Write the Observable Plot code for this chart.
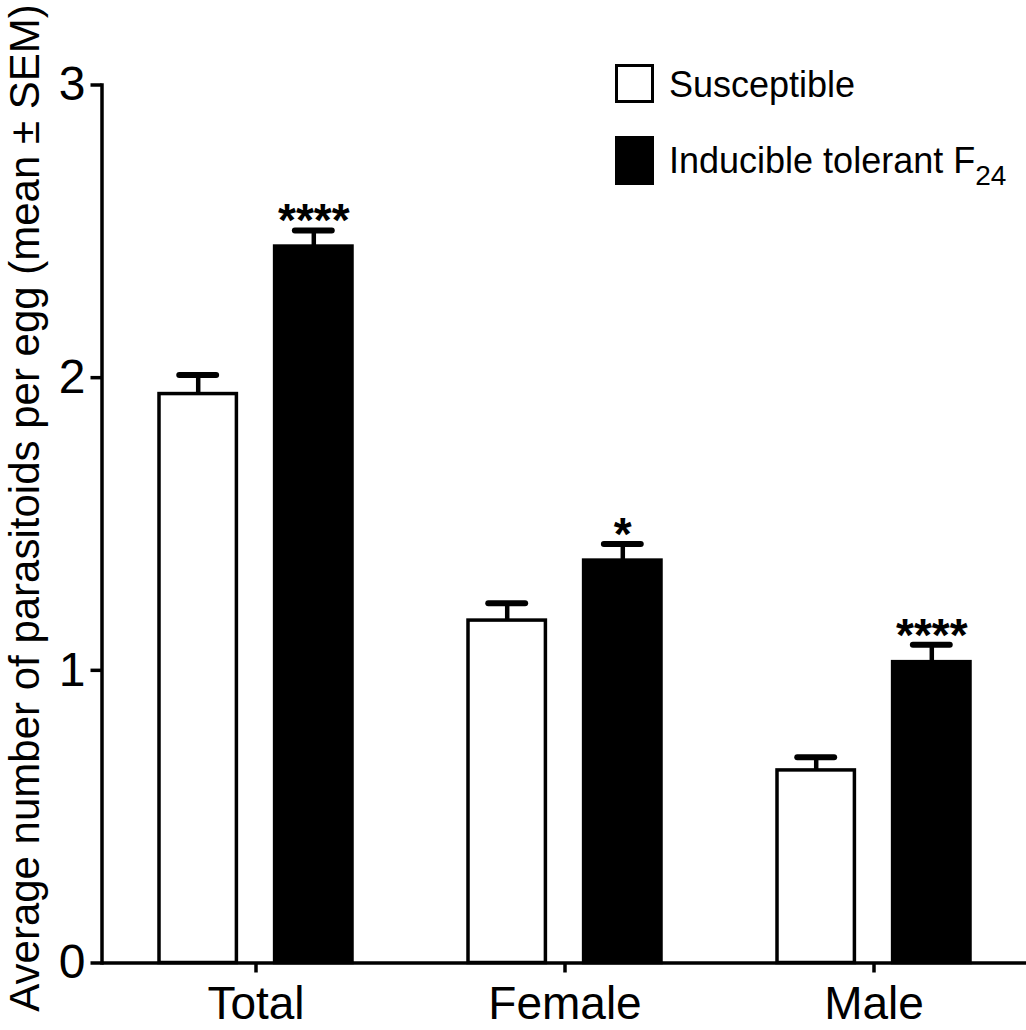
<!DOCTYPE html>
<html>
<head>
<meta charset="utf-8">
<script src="https://cdn.jsdelivr.net/npm/d3@7"></script>
<script src="https://cdn.jsdelivr.net/npm/@observablehq/plot@0.6"></script>
<style>
  html, body { margin: 0; padding: 0; background: #fff; }
  #wrap { position: relative; width: 1026px; height: 1030px; overflow: hidden; font-family: "Liberation Sans", Arial, Helvetica, sans-serif; color: #000; }
  .swatch { position: absolute; box-sizing: border-box; }
  .lab { position: absolute; font-size: 36px; line-height: 36px; white-space: nowrap; }
  .lab sub { font-size: 28px; vertical-align: -12px; line-height: 0; }
</style>
</head>
<body>
<div id="wrap"></div>
<script>
// ---- data ----
const categories = ["Total", "Female", "Male"];
const seriesNames = ["Susceptible", "Inducible tolerant F"];
const susceptibleMean = [1.944, 1.170, 0.658];
const susceptibleSEM  = [0.065, 0.059, 0.045];
const tolerantMean    = [2.448, 1.375, 1.028];
const tolerantSEM     = [0.055, 0.057, 0.059];
const significance    = ["****", "*", "****"];
const yTicks = [0, 1, 2, 3];
const yLabel = "Average number of parasitoids per egg (mean ± SEM)";

const rows = categories.map((c, i) => ({
  category: c,
  sMean: susceptibleMean[i], sSEM: susceptibleSEM[i],
  tMean: tolerantMean[i], tSEM: tolerantSEM[i],
  sig: significance[i]
}));

const barInset = 115.6, barOffset = 57.8;

const chart = Plot.plot({
  width: 1026,
  height: 1030,
  marginTop: 84.5,
  marginBottom: 67.5,
  marginLeft: 101.5,
  marginRight: 0,
  style: { fontFamily: "'Liberation Sans', Arial, Helvetica, sans-serif", background: "white", color: "black" },
  x: { type: "band", domain: categories, paddingInner: 0.3754, paddingOuter: 0.1829, align: 0.509 },
  y: { domain: [0, 3] },
  marks: [
    Plot.barY(rows, { x: "category", y: "sMean", fill: "white", stroke: "black", strokeWidth: 3.5, insetRight: barInset }),
    Plot.barY(rows, { x: "category", y: "tMean", fill: "black", stroke: "black", strokeWidth: 3.5, insetLeft: barInset }),
    Plot.ruleX(rows, { x: "category", y1: "sMean", y2: d => d.sMean + d.sSEM, dx: -barOffset, strokeWidth: 4.5 }),
    Plot.ruleX(rows, { x: "category", y1: "tMean", y2: d => d.tMean + d.tSEM, dx: barOffset, strokeWidth: 4.5 }),
    Plot.tickY(rows, { x: "category", y: d => d.sMean + d.sSEM, strokeWidth: 6, strokeLinecap: "round", insetLeft: 20.25, insetRight: 135.85 }),
    Plot.tickY(rows, { x: "category", y: d => d.tMean + d.tSEM, strokeWidth: 6, strokeLinecap: "round", insetLeft: 135.85, insetRight: 20.25 }),
    Plot.text(rows, { x: "category", y: d => d.tMean + d.tSEM, text: "sig", dx: barOffset, dy: 6, lineAnchor: "bottom", fontSize: 46, fontWeight: "bold", fill: "black" }),
    Plot.ruleY([0], { strokeWidth: 3.5 }),
    Plot.frame({ anchor: "left", strokeWidth: 3.5 }),
    Plot.axisY({ ticks: yTicks, tickFormat: d => String(d), tickSize: 11, tickPadding: 5.5, fontSize: 48, strokeWidth: 3.5, label: null }),
    Plot.axisX({ tickSize: 10, tickPadding: 13.5, fontSize: 46, strokeWidth: 3.5, label: null }),
    Plot.text([yLabel], { text: d => d, frameAnchor: "left", textAnchor: "middle", lineAnchor: "middle", rotate: -90, dx: -76, dy: -16, fontSize: 42, fill: "black" })
  ]
});

const wrap = document.getElementById("wrap");
wrap.appendChild(chart);

// legend overlay
const legend = [
  { name: seriesNames[0], sub: "", fill: "#fff", top: 64, h: 39, labTop: 66.5 },
  { name: seriesNames[1], sub: "24", fill: "#000", top: 136, h: 49, labTop: 142.5 }
];
for (const item of legend) {
  const sw = document.createElement("div");
  sw.className = "swatch";
  sw.style.left = "615px";
  sw.style.top = item.top + "px";
  sw.style.width = "39px";
  sw.style.height = item.h + "px";
  sw.style.background = item.fill;
  sw.style.border = "3.5px solid #000";
  wrap.appendChild(sw);
  const lab = document.createElement("div");
  lab.className = "lab";
  lab.style.left = "669px";
  lab.style.top = item.labTop + "px";
  lab.textContent = item.name;
  if (item.sub) {
    const s = document.createElement("sub");
    s.textContent = item.sub;
    lab.appendChild(s);
  }
  wrap.appendChild(lab);
}
</script>
</body>
</html>
